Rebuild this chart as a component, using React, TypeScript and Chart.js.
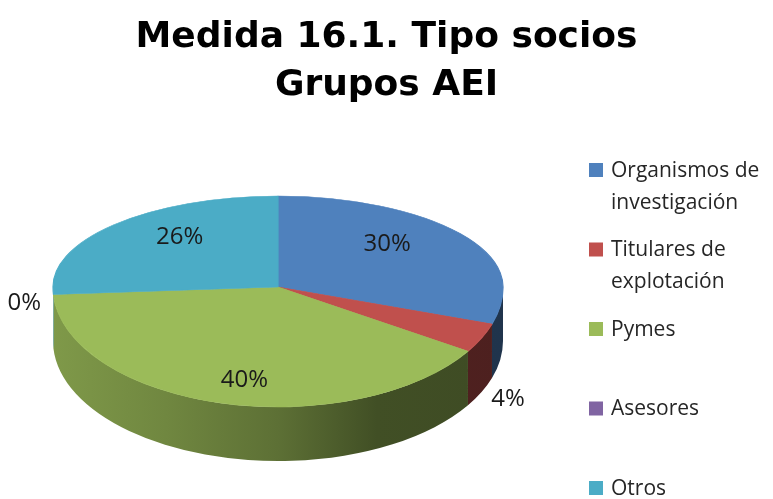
import React, { useEffect, useRef } from 'react';
import { Chart, registerables } from 'chart.js';

Chart.register(...registerables);

// ---- data ----
const categories = ['Organismos de investigación', 'Titulares de explotación', 'Pymes', 'Asesores', 'Otros'];
const values = [30, 4, 40, 0, 26];
const colors = ['#4F81BD', '#C0504D', '#9BBB59', '#8064A2', '#4BACC6'];
const titleLines = ['Medida 16.1. Tipo socios', 'Grupos AEI'];

// ---- layout / style ----
const FONT = '"Open Sans", sans-serif';
const TITLE_FONT = '"DejaVu Sans", sans-serif';
const CX = 278;
const CY = 287;
const RX = 225;
const RY_TOP = 91;
const RY_BOT = 120;
const DEPTH = 54;
const SIDE_SHADE: [number, number][] = [
  [0, 0.82],
  [0.25, 0.72],
  [0.5, 0.6],
  [0.72, 0.42],
  [1, 0.4],
];
const LEGEND_X = 589;
const LEGEND_TOP = 170;
const LEGEND_STEP = 79.5;
const LEGEND_LINE = 32;

function shade(hex: string, f: number) {
  const n = parseInt(hex.slice(1), 16);
  const r = Math.round(((n >> 16) & 255) * f);
  const g = Math.round(((n >> 8) & 255) * f);
  const b = Math.round((n & 255) * f);
  return `rgb(${r},${g},${b})`;
}

function wrap(ctx: CanvasRenderingContext2D, text: string, maxW: number) {
  const words = text.split(' ');
  const lines: string[] = [];
  let cur = '';
  for (const w of words) {
    const test = cur ? cur + ' ' + w : w;
    if (ctx.measureText(test).width > maxW && cur) {
      lines.push(cur);
      cur = w;
    } else cur = test;
  }
  if (cur) lines.push(cur);
  return lines;
}

const pie3d = {
  id: 'pie3d',
  beforeDatasetsDraw(chart: any) {
    const ctx: CanvasRenderingContext2D = chart.ctx;
    const arcs = chart.getDatasetMeta(0).data as any[];
    if (!arcs.length) return;
    const r = arcs[0].outerRadius;
    const ox = arcs[0].x;
    const oy = arcs[0].y;

    // side walls (front half only)
    arcs.forEach((arc) => {
      const ranges = [
        [0, Math.PI],
        [2 * Math.PI, 3 * Math.PI],
      ];
      for (const [lo, hi] of ranges) {
        const a0 = Math.max(arc.startAngle, lo);
        const a1 = Math.min(arc.endAngle, hi);
        if (a1 <= a0) continue;
        const b0 = a0 - lo;
        const b1 = a1 - lo;
        const g = ctx.createLinearGradient(CX - RX, 0, CX + RX, 0);
        SIDE_SHADE.forEach(([p, f]) => g.addColorStop(p, shade(arc.options.backgroundColor, f)));
        ctx.save();
        ctx.beginPath();
        ctx.ellipse(CX, CY, RX, RY_BOT, 0, b0, b1, false);
        ctx.ellipse(CX, CY + DEPTH, RX, RY_BOT, 0, b1, b0, true);
        ctx.closePath();
        ctx.fillStyle = g;
        ctx.fill();
        ctx.restore();
      }
    });

    // top face: far half and near half with different foreshortening
    const halves: [number, number, number][] = [
      [0, CY, RY_TOP],
      [CY, chart.height - CY, RY_BOT],
    ];
    for (const [y0, h, ry] of halves) {
      ctx.save();
      ctx.beginPath();
      ctx.rect(0, y0, chart.width, h);
      ctx.clip();
      ctx.translate(CX, CY);
      ctx.scale(RX / r, ry / r);
      ctx.translate(-ox, -oy);
      arcs.forEach((a) => a.draw(ctx));
      ctx.restore();
    }
    return false;
  },
  afterDraw(chart: any) {
    const ctx: CanvasRenderingContext2D = chart.ctx;
    const arcs = chart.getDatasetMeta(0).data as any[];
    const data = chart.data.datasets[0].data as number[];
    const total = data.reduce((s, v) => s + v, 0);

    // data labels
    ctx.save();
    ctx.font = `24px ${FONT}`;
    ctx.fillStyle = '#1a1a1a';
    ctx.textAlign = 'center';
    ctx.textBaseline = 'middle';
    arcs.forEach((arc, i) => {
      const v = data[i];
      const frac = v / total;
      const pct = Math.round(frac * 100) + '%';
      const mid = (arc.startAngle + arc.endAngle) / 2;
      const c = Math.cos(mid);
      const s = Math.sin(mid);
      const ry = s < 0 ? RY_TOP : RY_BOT;
      let x: number;
      let y: number;
      if (frac >= 0.1) {
        x = CX + 0.6 * RX * c;
        y = CY + 0.8 * ry * s;
      } else {
        x = CX + 1.13 * RX * c;
        y = CY + 1.13 * ry * s + DEPTH * Math.min(1, Math.max(0, s * 2.35));
      }
      ctx.fillText(pct, x, y);
    });
    ctx.restore();

    // legend
    ctx.save();
    ctx.font = `21px ${FONT}`;
    ctx.textAlign = 'left';
    ctx.textBaseline = 'middle';
    const labels = chart.data.labels as string[];
    labels.forEach((label, i) => {
      const y = LEGEND_TOP + i * LEGEND_STEP;
      ctx.fillStyle = colors[i];
      ctx.fillRect(LEGEND_X, y - 7, 14, 14);
      ctx.fillStyle = '#262626';
      wrap(ctx, label, 165).forEach((ln, j) => ctx.fillText(ln, LEGEND_X + 22, y + 1 + j * LEGEND_LINE));
    });
    ctx.restore();
  },
};

export default function App() {
  const ref = useRef<HTMLCanvasElement>(null);

  useEffect(() => {
    document.body.style.margin = '0';
    const canvas = ref.current!;
    const chart = new Chart(canvas, {
      type: 'pie',
      data: {
        labels: categories,
        datasets: [
          {
            data: values,
            backgroundColor: colors,
            borderColor: colors,
            borderWidth: 1,
          },
        ],
      },
      options: {
        responsive: false,
        maintainAspectRatio: false,
        devicePixelRatio: 1,
        animation: false,
        events: [],
        layout: { padding: 0 },
        plugins: {
          legend: { display: false },
          tooltip: { enabled: false },
          title: {
            display: true,
            text: titleLines,
            color: '#000',
            font: { family: TITLE_FONT, weight: 'bold', size: 36, lineHeight: 1.333 },
            padding: { top: 14, bottom: 0 },
          },
        },
      },
      plugins: [pie3d],
    } as any);
    return () => chart.destroy();
  }, []);

  return (
    <div style={{ width: 773, height: 499, background: '#fff' }}>
      <canvas ref={ref} width={773} height={499} style={{ display: 'block' }} />
    </div>
  );
}
